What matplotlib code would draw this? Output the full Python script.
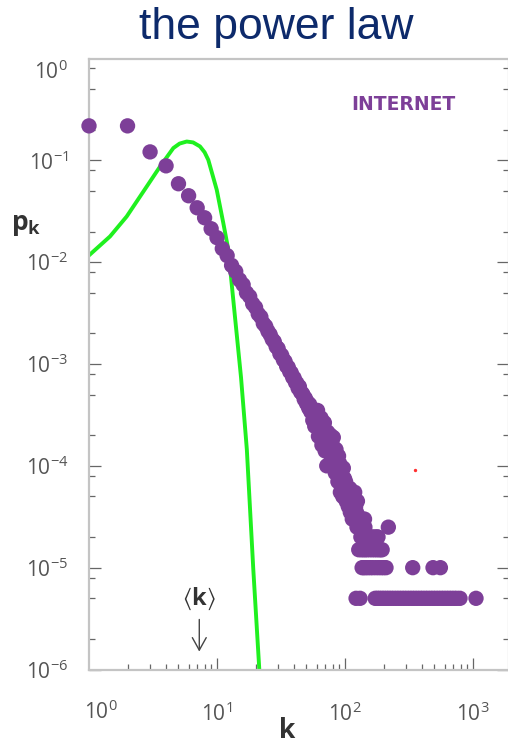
import matplotlib
matplotlib.use("Agg")
import matplotlib.pyplot as plt
from matplotlib.ticker import FixedLocator, LogLocator, NullFormatter

plt.rcParams['font.family'] = ['Open Sans', 'DejaVu Sans']
plt.rcParams['mathtext.fontset'] = 'custom'
plt.rcParams['mathtext.rm'] = 'Open Sans'
plt.rcParams['mathtext.bf'] = 'Open Sans:bold'
plt.rcParams['mathtext.it'] = 'Open Sans:italic'
plt.rcParams['mathtext.default'] = 'regular'

# ---------------- data ----------------
# Internet degree distribution, low degrees (one point per k)
k_head = [1, 2, 3, 4, 5, 6, 7, 8, 9, 10]
p_head = [0.218, 0.218, 0.121, 0.0883, 0.0589, 0.0449, 0.0342, 0.0273, 0.0213, 0.0174]

# k = 11 .. 131
k_body = list(range(11, 132))
p_body = [
    0.0136, 0.0116, 0.0093, 0.0081, 0.0067, 0.0060, 0.0050, 0.0046, 0.0039, 0.0036,   # 11-20
    0.0031, 0.0029, 0.0025, 0.00235, 0.0021, 0.00195, 0.00175, 0.00166, 0.00148, 0.00142,  # 21-30
    0.00126, 0.00122, 0.00110, 0.00106, 0.00095, 0.00093, 0.00084, 0.00082, 0.00074, 0.00073,  # 31-40
    0.00066, 0.00065, 0.00058, 0.00060, 0.00053, 0.00052, 0.00050, 0.00045, 0.00046, 0.00041,  # 41-50
    0.00042, 0.00037, 0.00040, 0.00034, 0.00036, 0.00028, 0.00035, 0.000245, 0.00035, 0.000255,  # 51-60
    0.00035, 0.000195, 0.000265, 0.000195, 0.000295, 0.00016, 0.00024, 0.00018, 0.000265, 0.00014,  # 61-70
    0.00020, 0.00010, 0.000215, 0.00014, 0.00017, 0.000105, 0.00020, 0.000125, 0.000165, 0.00010,  # 71-80
    0.00019, 0.000105, 0.000135, 0.000085, 0.000145, 0.00010, 0.000115, 0.00007, 0.000125, 0.000085,  # 81-90
    0.000105, 0.000055, 0.000095, 0.000065, 0.000095, 0.00005, 0.000095, 0.000055, 0.000075, 0.00005,  # 91-100
    0.00007, 0.000045, 0.00006, 0.00005, 0.000055, 0.00004, 0.00005, 0.00004, 0.00006, 0.000035,  # 101-110
    0.000045, 0.000035, 0.00005, 0.00003, 0.000045, 0.000035, 0.00003, 0.00004, 0.000055, 0.00003,  # 111-120
    0.00004, 0.000005, 0.000035, 0.000025, 0.000045, 0.00003, 0.000025, 0.000015, 0.00003, 0.000025,  # 121-130
    0.000005,  # 131
]

# high-degree tail: quantised probability levels and the degrees found on each
band_p = [3e-5, 2.5e-5, 2e-5, 1.5e-5, 1e-5, 5e-6]
band_k = [
    [132, 138, 142],
    [135, 143, 218],
    [133, 137, 141, 146, 150, 155, 160, 166, 172, 178, 181],
    [134, 139, 144, 149, 156, 163, 170, 177, 184, 190, 195],
    [136, 140, 145, 151, 158, 165, 174, 183, 192, 200, 209, 338, 487, 556],
    [172, 179, 186, 194, 202, 211, 220, 230, 241, 253, 265, 278, 291, 305, 320,
     335, 351, 368, 386, 404, 424, 444, 466, 488, 512, 537, 563, 590, 619, 649,
     680, 713, 748, 791, 1055],
]

# Poisson (random network) curve
green_k = [0.98, 1.46, 1.97, 2.66, 3.59, 4.56, 5.1, 5.8, 6.5, 7.36, 8.0, 8.55,
           9.95, 11.2, 12.25, 13.0, 15.4, 17.1, 19.2, 21.4]
green_p = [0.0114, 0.0179, 0.0281, 0.0494, 0.0869, 0.132, 0.146, 0.153, 0.150,
           0.137, 0.12, 0.101, 0.0514, 0.0242, 0.0133, 0.00625, 7.4e-4, 1.45e-4,
           9.7e-6, 1.0e-6]

mean_k = 7.27
stray_k, stray_p = [352], [9.2e-5]

x_ticks = [1e1, 1e2, 1e3]
x_ticklabels = ['$10^{1}$', '$10^{2}$', '$10^{3}$']
y_ticks = [1e-6, 1e-5, 1e-4, 1e-3, 1e-2, 1e-1]
y_ticklabels = ['$10^{-6}$', '$10^{-5}$', '$10^{-4}$', '$10^{-3}$', '$10^{-2}$', '$10^{-1}$']
origin_label = '$10^{0}$'

# ---------------- figure ----------------
W, H = 508, 746
fig = plt.figure(figsize=(W / 100, H / 100), dpi=100)
ax = fig.add_axes([89 / W, 1 - 669.5 / H, 420 / W, 611 / H])
ax.set_xscale('log')
ax.set_yscale('log')
ax.set_xlim(1, 1.91e3)
ax.set_ylim(1e-6, 1)

ax.plot(green_k, green_p, color='#1ff01f', lw=2.8, zorder=2)

k_all = k_head + k_body
p_all = p_head + p_body
for lvl, ks in zip(band_p, band_k):
    k_all = k_all + ks
    p_all = p_all + [lvl] * len(ks)
ax.scatter(k_all, p_all, s=122, color='#7d3f98', edgecolors='none', zorder=3, clip_on=False)
ax.scatter(stray_k, stray_p, s=2, color='#ff3030', zorder=3)

for sp in ax.spines.values():
    sp.set_color('#c4c4c4')
    sp.set_linewidth(1.6)

ax.xaxis.set_major_locator(FixedLocator(x_ticks))
ax.set_xticklabels(x_ticklabels)
ax.xaxis.set_minor_locator(LogLocator(base=10, subs=(2, 3, 4, 5, 6, 7, 8, 9), numticks=20))
ax.xaxis.set_minor_formatter(NullFormatter())
ax.yaxis.set_major_locator(FixedLocator(y_ticks))
ax.set_yticklabels(y_ticklabels)
ax.yaxis.set_minor_locator(LogLocator(base=10, subs=(2, 5, 8), numticks=20))
ax.yaxis.set_minor_formatter(NullFormatter())

ax.tick_params(which='both', direction='in', color='#666666', width=0.9,
               top=False, right=True, labelcolor='#555555', labelsize=15)
ax.tick_params(which='major', length=8.5)
ax.tick_params(which='minor', length=4)
ax.tick_params(axis='x', which='major', pad=24)
ax.tick_params(axis='y', which='major', pad=15)

# 10^0 labels, nudged as in the original
fig.text(101 / W, 1 - 712 / H, origin_label, fontsize=15, color='#555555', ha='center', va='center')
fig.text(68 / W, 1 - 72 / H, origin_label, fontsize=15, color='#555555', ha='right', va='center')

fig.text(287 / W, 1 - 731 / H, 'k', fontsize=19, fontweight='bold', color='#333333',
         ha='center', va='center')
fig.text(26 / W, 1 - 226 / H, r'$\mathbf{p}_{\mathbf{k}}$', fontsize=19, color='#333333',
         ha='center', va='center')

fig.text(276 / W, 1 - 28 / H, 'the power law', fontsize=32, color='#0d2a6b',
         family=['Liberation Sans', 'DejaVu Sans'], ha='center', va='center')

fig.text(403 / W, 1 - 104 / H, 'INTERNET', fontsize=13.5, color='#7d3f98', fontweight='bold',
         family=['DejaVu Sans'], ha='center', va='center')

ax.text(mean_k, 4.9e-6, r'$\langle\mathbf{k}\rangle$', fontsize=17, color='#333333',
        ha='center', va='center')
ax.annotate('', xy=(mean_k, 1.5e-6), xytext=(mean_k, 3.1e-6),
            arrowprops=dict(arrowstyle='->,head_length=0.9,head_width=0.5',
                            lw=1.0, color='#444444', shrinkA=0, shrinkB=0))

fig.savefig('out.png', dpi=100)
